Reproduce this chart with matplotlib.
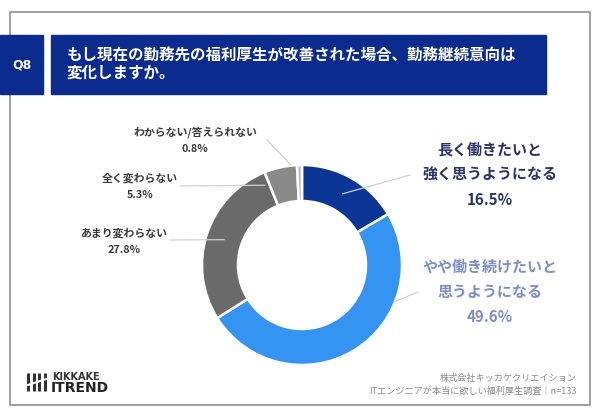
import matplotlib
matplotlib.use("Agg")
import matplotlib.pyplot as plt
from matplotlib.patches import Rectangle
import numpy as np

plt.rcParams['font.family'] = ['Noto Sans CJK JP', 'DejaVu Sans']

# données
values = [16.5, 49.6, 27.8, 5.3, 0.8]
categories = ["長く働きたいと\n強く思うようになる", "やや働き続けたいと\n思うようになる",
              "あまり変わらない", "全く変わらない", "わからない/答えられない"]
colors = ["#0c3696", "#3593f2", "#6a6a6a", "#8a8a8a", "#bdbdbd"]
title_lines = ["もし現在の勤務先の福利厚生が改善された場合、勤務継続意向は", "変化しますか。"]
footer_lines = ["株式会社キッカケクリエイション", "ITエンジニアが本当に欲しい福利厚生調査｜n=133"]

cx, cy, R = 302, 265, 100

fig = plt.figure(figsize=(6, 4.16), dpi=100)
ax = fig.add_axes([0, 0, 1, 1])

# donut (axe y inversé -> sens trigo en données = sens horaire à l'écran)
wedges, _ = ax.pie(values, colors=colors, startangle=-90, counterclock=True,
                   center=(cx, cy), radius=R,
                   wedgeprops=dict(width=36, edgecolor="white", linewidth=1.8))
ax.set_xlim(0, 600)
ax.set_ylim(416, 0)
ax.set_aspect('auto')
ax.axis('off')

# cadre
ax.add_patch(Rectangle((10, 12), 580, 393, fill=False, edgecolor="#9a9a9a", lw=1.3, zorder=0))
# entête
ax.add_patch(Rectangle((0, 35), 43, 59, color="#0b2b8f", zorder=3))
ax.add_patch(Rectangle((51, 35), 495, 59, color="#0b2b8f", zorder=3))
ax.text(22, 65, "Q8", color="white", fontsize=9, fontweight="bold",
        ha="center", va="center", family="DejaVu Sans", zorder=4)
for i, line in enumerate(title_lines):
    ax.text(67, 56 + i * 17, line, color="white", fontsize=11.2, fontweight="bold",
            ha="left", va="center", zorder=4)

# angles des segments (degrés, sens trigo standard à l'écran)
cum = np.concatenate([[0], np.cumsum(values)])
mid = [90 - (cum[i] + values[i] / 2) * 3.6 for i in range(len(values))]


def polar(a, r):
    return cx + r * np.cos(np.radians(a)), cy - r * np.sin(np.radians(a))


line_col = "#cfcfcf"
# lignes de rappel
leaders = [
    (polar(mid[0], 82), (410, 175)),
    (polar(-22, 99), (418, 292)),
    (polar(mid[2], 82), (170, 240)),
    (polar(115, 88), (180, 186)),
    (polar(mid[4] + 5, 101), (267, 140)),
]
for (x0, y0), (x1, y1) in leaders:
    ax.plot([x0, x1], [y0, y1], color=line_col, lw=0.9, zorder=5)

# étiquettes à droite
right_pos = [(490, 150), (490, 267)]
right_col = ["#2b3467", "#7d8fc5"]
for k in range(2):
    lines = categories[k].split("\n") + [f"{values[k]}%"]
    x, y = right_pos[k]
    for i, line in enumerate(lines):
        ax.text(x, y + i * 25, line, color=right_col[k], fontsize=10.8,
                fontweight="bold", ha="center", va="center")

# étiquettes à gauche
left_pos = {2: (124, 233), 3: (140, 178), 4: (195, 132)}
for k, (x, y) in left_pos.items():
    ax.text(x, y, categories[k], color="#3a3a3a", fontsize=7.8, fontweight="bold",
            ha="center", va="center")
    ax.text(x, y + 17, f"{values[k]}%", color="#3a3a3a", fontsize=7.8, fontweight="bold",
            ha="center", va="center")

# pied de page
for i, line in enumerate(footer_lines):
    ax.text(577, 378 + i * 13, line, color="#8a8a8a", fontsize=6.6, ha="right", va="center")

# logo
for i in range(4):
    x = 28 + i * 5.5
    ax.plot([x, x], [373, 391], color="#333333", lw=2.2, solid_capstyle="butt")
ax.plot([28, 46], [385, 379], color="white", lw=1.5)
ax.text(52, 377, "KIKKAKE", color="#333333", fontsize=7, fontweight="bold",
        ha="left", va="center", family="DejaVu Sans")
ax.text(51, 387.5, "ITREND", color="#222222", fontsize=10, fontweight="bold",
        ha="left", va="center", family="DejaVu Sans")

fig.savefig("out.png", dpi=100)
